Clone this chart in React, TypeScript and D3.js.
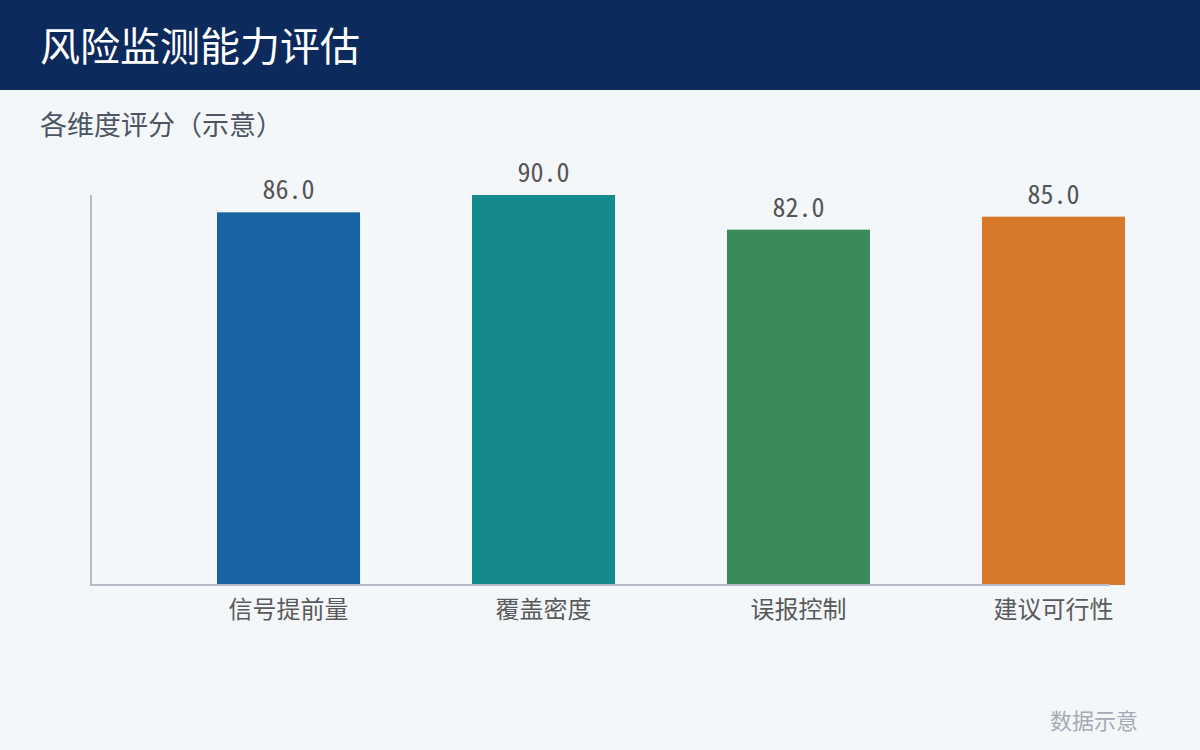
import React from "react";
import * as d3 from "d3";

const categories = ["信号提前量", "覆盖密度", "误报控制", "建议可行性"];
const values = [86.0, 90.0, 82.0, 85.0];
const colors = ["#1763a3", "#138a8c", "#3b8b5a", "#d7782a"];
const title = "风险监测能力评估";
const subtitle = "各维度评分（示意）";
const footnote = "数据示意";

const W = 1200;
const H = 750;
const FONT = "'Noto Sans CJK SC', 'Noto Sans', sans-serif";
const MONO = "'Noto Sans Mono CJK SC', 'Noto Sans Mono', 'DejaVu Sans Mono', monospace";

export default function App() {
  const baseY = 585;
  const topY = 195;
  const x = d3
    .scaleBand<string>()
    .domain(categories)
    .range([217, 1125])
    .paddingInner(0.439)
    .paddingOuter(0);
  const y = d3.scaleLinear().domain([0, d3.max(values) as number]).range([baseY, topY]);

  return (
    <svg
      width={W}
      height={H}
      style={{ position: "absolute", left: 0, top: 0, display: "block" }}
      fontFamily={FONT}
    >
      <rect x={0} y={0} width={W} height={H} fill="#f4f7fa" />
      <rect x={0} y={0} width={W} height={90} fill="#0d2a5c" />
      <text x={40} y={61} fill="#ffffff" fontSize={40}>
        {title}
      </text>
      <text x={40} y={135} fill="#4b5563" fontSize={27}>
        {subtitle}
      </text>

      {categories.map((c, i) => (
        <g key={c}>
          <rect
            x={x(c)}
            y={y(values[i])}
            width={x.bandwidth()}
            height={baseY - y(values[i])}
            fill={colors[i]}
          />
          <text
            x={(x(c) as number) + x.bandwidth() / 2}
            y={y(values[i]) - 13}
            textAnchor="middle"
            fill="#555555"
            fontSize={26}
            fontFamily={MONO}
          >
            {values[i].toFixed(1)}
          </text>
          <text
            x={(x(c) as number) + x.bandwidth() / 2}
            y={618}
            textAnchor="middle"
            fill="#5a5a5a"
            fontSize={24}
          >
            {c}
          </text>
        </g>
      ))}

      <line x1={91} y1={topY} x2={91} y2={baseY} stroke="#b3bcc7" strokeWidth={2} />
      <line x1={90} y1={baseY} x2={1110} y2={baseY} stroke="#b3bcc7" strokeWidth={2} />

      <text x={1138} y={729} textAnchor="end" fill="#a3abb5" fontSize={22}>
        {footnote}
      </text>
    </svg>
  );
}
